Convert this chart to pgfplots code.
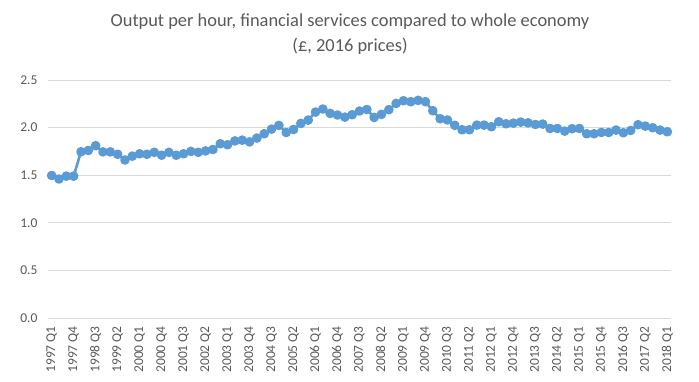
\documentclass[border=0pt]{standalone}
\usepackage{pgfplots}
\pgfplotsset{compat=1.18}
\usepackage{fontspec}
\setmainfont{Carlito}
\definecolor{txt}{HTML}{595959}
\definecolor{grd}{HTML}{D9D9D9}
\definecolor{ser}{HTML}{5B9BD5}
\begin{document}
\begin{tikzpicture}
\begin{axis}[
  scale only axis, width=623bp, height=238bp,
  xmin=-0.5, xmax=84.5, ymin=0, ymax=2.5,
  axis line style={draw=none},
  ytick={0,0.5,...,2.5},
  ymajorgrids, grid style={grd, line width=0.75pt},
  major tick length=0pt,
  yticklabel style={font=\fontsize{13.5bp}{15bp}\selectfont, text=txt, xshift=-7bp, /pgf/number format/.cd, fixed, fixed zerofill, precision=1, assume math mode=true},
  xtick={0,3,...,84},
  xticklabels={1997 Q1,1997 Q4,1998 Q3,1999 Q2,2000 Q1,2000 Q4,2001 Q3,2002 Q2,2003 Q1,2003 Q4,2004 Q3,2005 Q2,2006 Q1,2006 Q4,2007 Q3,2008 Q2,2009 Q1,2009 Q4,2010 Q3,2011 Q2,2012 Q1,2012 Q4,2013 Q3,2014 Q2,2015 Q1,2015 Q4,2016 Q3,2017 Q2,2018 Q1},
  xticklabel style={yshift=-7bp, rotate=90, anchor=east, font=\fontsize{13.5bp}{15bp}\selectfont, text=txt, inner sep=1bp},
  clip=false,
]
\draw[grd, line width=0.75pt] (rel axis cs:0,0) -- (rel axis cs:1,0);
\addplot[ser, line width=2.6pt, line join=round, mark=*, mark size=3.5bp, mark options={fill=ser, draw=none, solid}] coordinates {
(0,1.497)(1,1.46)(2,1.49)(3,1.49)(4,1.746)(5,1.76)(6,1.81)(7,1.745)(8,1.745)(9,1.72)
(10,1.66)(11,1.70)(12,1.725)(13,1.72)(14,1.74)(15,1.71)(16,1.74)(17,1.71)(18,1.725)(19,1.75)
(20,1.74)(21,1.755)(22,1.77)(23,1.83)(24,1.82)(25,1.86)(26,1.868)(27,1.85)(28,1.89)(29,1.935)
(30,1.984)(31,2.023)(32,1.949)(33,1.98)(34,2.044)(35,2.079)(36,2.163)(37,2.195)(38,2.149)(39,2.132)
(40,2.11)(41,2.135)(42,2.174)(43,2.19)(44,2.107)(45,2.139)(46,2.188)(47,2.254)(48,2.282)(49,2.272)
(50,2.286)(51,2.272)(52,2.177)(53,2.093)(54,2.08)(55,2.024)(56,1.977)(57,1.977)(58,2.026)(59,2.026)
(60,2.009)(61,2.061)(62,2.04)(63,2.047)(64,2.058)(65,2.05)(66,2.033)(67,2.037)(68,1.991)(69,1.991)
(70,1.963)(71,1.988)(72,1.991)(73,1.935)(74,1.935)(75,1.949)(76,1.949)(77,1.974)(78,1.946)(79,1.97)
(80,2.03)(81,2.016)(82,1.998)(83,1.974)(84,1.956)
};
\node[align=center, text=txt, font=\fontsize{18.4bp}{25bp}\selectfont, anchor=center] at ([xshift=302bp, yshift=284bp]rel axis cs:0,0) {Output per hour, financial services compared to whole economy\\(£, 2016 prices)};
\end{axis}
\pgfresetboundingbox
\useasboundingbox ([xshift=-48bp, yshift=-64bp]current axis.south west) rectangle ++(699bp,382bp);
\end{tikzpicture}
\end{document}
